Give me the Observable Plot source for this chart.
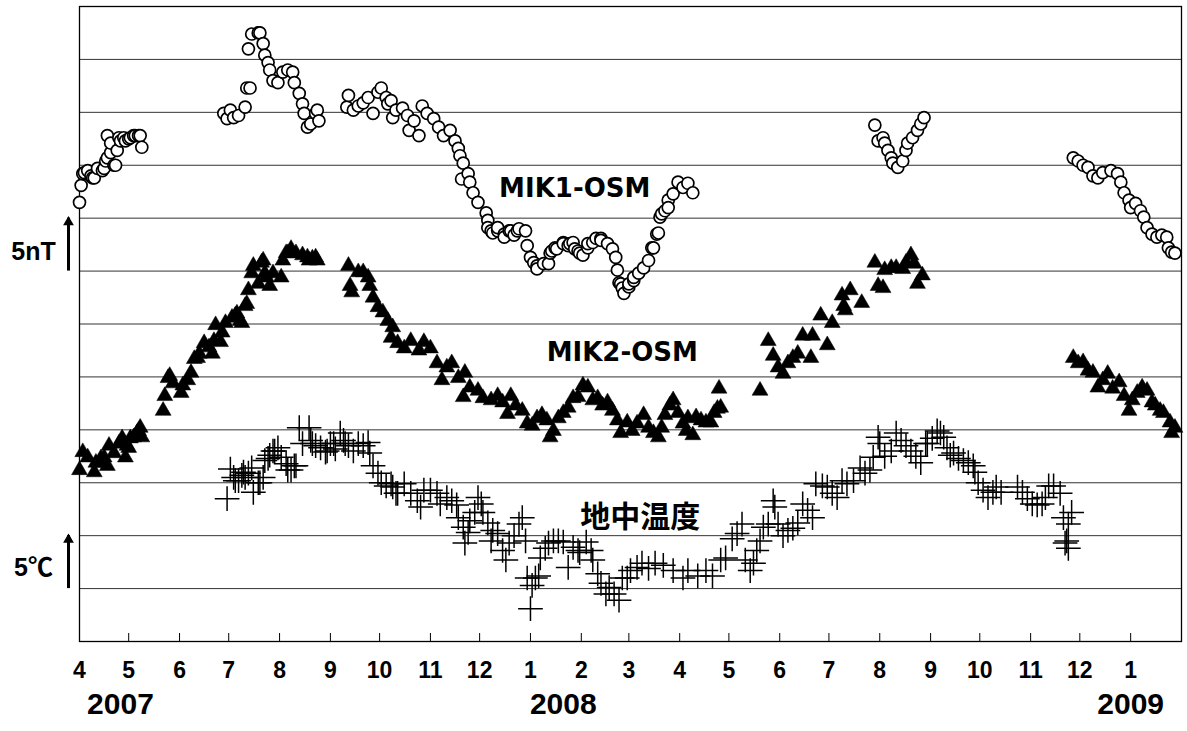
<!DOCTYPE html>
<html>
<head>
<meta charset="utf-8">
<script src="https://cdn.jsdelivr.net/npm/d3@7"></script>
<script src="https://cdn.jsdelivr.net/npm/@observablehq/plot@0.6"></script>
<style>
  html, body { margin: 0; padding: 0; background: #fff; }
  #chart svg { display: block; }
</style>
</head>
<body>
<div id="chart"></div>
<script>
// Day offsets are days elapsed since 2007-04-01; values in nT (or degC), one grid step = 5
const startDate = "2007-04-01";
const endDate = "2009-02-01";

const mik1 = [
  [0,41.5],[1,43.1],[2,44.2],[3,44.3],[5,44.5],[7,44.0],[8,43.8],[9,43.8],[11,44.7],[14,44.5],[15,44.7],[16,45.4],[17,45.7],[17,47.8],[19,46.2],[19,47.1],[21,45.0],[22,45.0],[23,46.4],[24,47.6],[25,47.3],[27,47.6],[28,47.3],[30,47.5],[31,47.6],[33,47.8],[34,47.8],[36,47.8],[37,47.8],[38,46.7],
  [88,49.9],[90,49.4],[92,50.2],[94,49.5],[97,49.7],[101,50.5],[102,52.3],[104,52.3],[103,56.0],[105,57.4],[109,57.5],[110,57.5],[112,56.5],[113,55.4],[115,54.7],[116,54.0],[118,53.0],[121,52.8],[124,53.8],[127,54.0],[130,53.8],[131,52.8],[134,51.8],[136,50.8],[137,49.9],[139,48.6],[141,48.9],[144,49.9],[145,50.2],[146,49.2],
  [163,50.5],[164,51.6],[167,50.2],[170,50.6],[173,50.9],[176,51.4],[179,49.9],[182,51.9],[184,52.3],[187,51.4],[188,50.8],[190,51.1],[191,49.5],[193,50.2],[197,50.4],[200,49.7],[201,48.3],[204,49.2],[207,47.8],[209,50.6],[212,49.9],[216,49.4],[219,48.6],[222,47.8],[226,48.3],[229,47.3],[231,46.6],[232,45.9],[234,45.2],[233,43.7],[237,44.2],[238,43.4],[240,42.4],[243,41.5],[248,40.5],[249,39.8],[249,39.1],[251,38.8],[252,38.6],[255,38.8],[255,39.1],[259,38.5],[259,38.2],[262,38.8],[263,38.8],[265,38.4],[267,38.8],[268,39.0],[272,38.8],[273,37.4],[275,36.3],[277,35.8],[279,35.5],[279,35.2],[283,35.7],[286,35.7],[287,36.7],[288,36.9],[290,37.2],[291,37.1],[295,37.7],[295,37.6],[298,37.4],[299,37.6],[301,37.7],[302,37.1],[304,36.9],[305,36.7],[307,36.5],[310,37.2],[310,37.6],[313,37.7],[315,38.1],[318,38.1],[318,37.9],[322,37.6],[325,37.1],[327,36.3],[328,35.1],[329,33.9],[330,33.8],[331,33.4],[332,32.9],[335,33.5],[335,33.8],[338,34.1],[338,34.4],[341,34.8],[344,35.3],[347,36.0],[349,37.2],[350,37.2],[352,38.5],[353,38.6],[354,40.1],[355,40.4],[357,40.7],[359,41.7],[359,41.0],[362,42.3],[365,43.4],[368,42.9],[371,43.3],[374,42.4],
  [485,48.8],[487,47.3],[490,47.6],[491,47.1],[493,46.4],[495,45.7],[496,45.2],[499,44.8],[502,45.4],[504,46.4],[505,47.1],[508,47.6],[511,48.3],[513,48.9],[515,49.5],
  [606,45.7],[609,45.4],[612,45.0],[615,44.8],[618,44.0],[621,43.8],[624,44.3],[629,44.5],[633,44.2],[635,43.4],[637,42.4],[640,41.7],[641,41.0],[644,41.4],[647,40.7],[649,40.1],[651,39.1],[654,38.5],[657,38.2],[660,38.4],[663,38.2],[664,37.2],[666,36.8],[668,36.7]
];

const mik2 = [
  [0,16.2],[2,17.9],[5,17.4],[9,16.0],[10,16.9],[12,16.9],[13,17.3],[15,17.4],[17,16.6],[18,18.5],[21,17.8],[24,18.7],[25,18.8],[26,19.2],[28,17.4],[29,18.5],[30,18.3],[31,19.2],[33,19.3],[35,19.7],[36,19.9],[37,20.2],[38,19.3],
  [51,21.8],[52,23.2],[54,24.9],[55,25.1],[57,24.4],[62,23.5],[63,24.2],[66,24.7],[68,25.4],[70,26.7],[72,26.8],[73,27.2],[76,28.2],[79,27.8],[81,27.2],[82,28.4],[83,29.9],[86,28.3],[87,29.2],[89,30.1],[93,30.6],[95,30.8],[96,31.0],[98,30.3],[99,30.1],[101,31.7],[102,31.9],[103,33.2],[105,34.8],[106,35.5],[109,33.8],[111,35.8],[112,36.0],[113,34.8],[114,34.4],[116,33.6],[118,34.8],[123,34.4],[124,36.0],[126,36.7],[127,36.7],[129,37.1],[132,36.7],[136,36.5],[139,36.3],[140,36.0],[142,36.2],[144,36.3],[145,36.0],
  [164,35.5],[165,33.6],[166,33.0],[170,34.9],[173,34.9],[176,34.4],[177,33.6],[179,32.5],[182,31.6],[185,31.1],[188,30.3],[190,28.7],[191,29.7],[194,28.2],[198,27.7],[202,28.4],[207,27.5],[210,28.3],[214,27.7],[218,26.3],[221,24.7],[224,25.9],[227,26.3],[231,24.9],[234,23.1],[235,25.4],[238,24.0],[243,23.7],[246,23.0],[251,22.8],[255,23.2],[258,22.6],[261,21.5],[263,23.2],[266,22.3],[270,21.8],[273,20.6],[276,20.4],[279,21.1],[282,21.4],[285,20.9],[287,19.3],[289,19.9],[292,21.1],[295,21.6],[298,22.1],[301,23.0],[304,23.1],[307,24.2],[310,24.0],[313,22.8],[316,23.0],[319,22.3],[322,22.6],[325,21.8],[328,20.9],[330,19.7],[334,20.7],[337,19.9],[340,20.6],[344,21.4],[347,20.2],[350,19.7],[353,19.3],[355,20.2],[357,21.4],[360,22.3],[362,22.8],[365,21.6],[368,20.6],[370,19.9],[371,21.1],[374,19.5],[376,21.2],[379,20.9],[382,20.7],[385,20.7],[387,21.6],[389,22.0],[391,22.1],[390,23.9],
  [415,23.7],[420,28.4],[423,27.0],[426,25.9],[429,25.3],[432,26.3],[435,26.8],[438,27.2],[441,28.9],[446,26.8],[447,28.9],[452,30.8],[456,28.0],[459,30.1],[465,32.7],[466,31.7],[467,31.3],[470,33.2],[477,32.0],[485,35.8],[487,33.6],[490,33.4],[491,35.1],[495,35.3],[498,35.3],[502,35.2],[504,35.8],[507,36.5],[509,35.7],[511,33.8],[514,34.6],
  [606,26.8],[609,26.3],[612,26.4],[615,25.6],[618,25.4],[621,24.0],[624,24.7],[627,25.3],[630,23.9],[634,24.5],[637,23.2],[640,21.8],[642,22.8],[645,23.5],[648,24.0],[651,23.7],[654,22.6],[656,22.3],[659,21.8],[661,21.6],[665,20.7],[666,19.7],[668,20.2]
];

const soilTemp = [
  [90,13.5],[92,16.3],[94,15.5],[95,15.2],[97,15.2],[99,15.7],[100,16.0],[101,15.5],[103,15.9],[105,16.4],[106,14.1],[109,15.0],[110,15.0],[112,15.5],[113,17.1],[115,17.3],[116,17.6],[118,18.0],[119,18.0],[121,18.3],[123,17.4],[126,16.8],[127,16.2],[129,16.2],[131,16.6],[132,16.6],[134,20.2],[136,18.7],[140,20.2],[141,19.0],[142,18.7],[144,18.5],[147,18.3],[150,17.9],[151,18.0],[153,18.7],[155,18.7],[156,18.2],[159,19.7],[161,19.0],[162,18.7],[164,18.5],[167,18.0],[170,18.7],[173,18.5],[176,18.8],[177,17.8],[179,16.6],[182,15.9],[184,15.0],[187,14.7],[190,14.9],[191,14.6],[193,14.0],[194,14.0],[198,14.9],[202,14.0],[206,13.3],[208,12.7],[210,14.3],[214,14.3],[218,14.0],[220,13.0],[224,13.6],[227,13.3],[230,12.9],[231,11.7],[234,10.8],[235,9.3],[237,10.3],[238,11.4],[241,12.2],[243,13.6],[245,13.0],[246,12.2],[249,11.2],[251,9.5],[252,10.5],[255,10.2],[258,8.6],[260,7.7],[262,9.3],[265,10.0],[268,11.1],[270,11.7],[272,9.5],[273,6.0],[275,3.1],[276,5.3],[278,6.0],[280,6.2],[281,7.9],[284,8.8],[286,9.3],[289,9.5],[292,9.5],[295,9.4],[298,7.0],[301,8.9],[304,8.6],[305,8.4],[309,9.4],[312,8.6],[313,7.7],[316,6.4],[318,5.5],[321,4.5],[323,5.1],[326,4.5],[329,3.9],[331,6.0],[334,6.0],[336,6.7],[340,7.0],[343,7.4],[347,6.9],[351,7.4],[356,7.2],[362,6.7],[368,6.0],[371,6.7],[377,6.2],[382,6.7],[386,6.2],[391,7.7],[394,7.9],[398,9.7],[401,10.2],[404,11.1],[406,7.7],[409,6.7],[411,7.4],[413,8.6],[415,9.5],[417,10.8],[420,11.1],[423,13.3],[424,12.7],[426,11.1],[429,10.0],[432,10.5],[435,10.7],[438,11.2],[441,13.0],[444,12.4],[447,11.7],[449,14.9],[453,14.7],[456,14.6],[459,14.0],[462,13.6],[465,15.2],[468,14.9],[472,15.2],[476,16.4],[479,15.9],[482,16.2],[484,17.4],[487,19.3],[488,18.7],[491,17.5],[495,18.0],[498,19.7],[501,19.0],[504,18.5],[507,18.0],[510,17.5],[513,16.9],[516,18.7],[517,18.7],[520,19.2],[523,19.9],[525,19.7],[527,19.3],[529,18.3],[531,17.6],[533,17.8],[536,17.3],[539,17.1],[542,16.9],[545,16.6],[546,16.0],[548,15.0],[551,14.3],[554,13.6],[557,14.1],[559,14.6],[562,14.1],
  [572,14.6],[575,14.1],[578,13.5],[581,13.0],[584,12.9],[587,13.0],[589,13.6],[591,14.7],[594,14.7],[598,14.0],[600,11.7],[603,11.1],[605,12.2],[601,9.3],[602,9.5],[603,8.8]
];

const monthTicks = ["2007-04-01","2007-05-01","2007-06-01","2007-07-01","2007-08-01","2007-09-01","2007-10-01","2007-11-01","2007-12-01",
  "2008-01-01","2008-02-01","2008-03-01","2008-04-01","2008-05-01","2008-06-01","2008-07-01","2008-08-01","2008-09-01","2008-10-01","2008-11-01","2008-12-01","2009-01-01"];
const yearLabels = ["2007","2008","2009"];
const yearLabelDates = ["2007-04-26","2008-01-21","2009-01-01"];
const gridValues = [5,10,15,20,25,30,35,40,45,50,55];
const seriesLabels = ["MIK1-OSM","MIK2-OSM","地中温度"];
const seriesLabelDates = ["2008-01-28","2008-02-26","2008-03-08"];
const seriesLabelValues = [42.8, 27.3, 11.7];
const scaleLabels = ["5nT","5℃"];
const scaleLabelValues = [36.8, 6.9];
const scaleArrows = [[35, 40], [5, 10]];

const t0 = new Date(startDate + "T00:00:00Z");
const toDate = d => new Date(t0.getTime() + d * 864e5);
const asRows = arr => arr.map(([d, v]) => ({date: toDate(d), value: v}));
const parse = s => new Date(s + "T00:00:00Z");

const tickDates = monthTicks.map(parse);
const labelRows = seriesLabels.map((t, i) => ({text: t, date: parse(seriesLabelDates[i]), value: seriesLabelValues[i]}));
const yearRows = yearLabels.map((t, i) => ({text: t, date: parse(yearLabelDates[i])}));
const scaleRows = scaleLabels.map((t, i) => ({text: t, value: scaleLabelValues[i]}));
const arrowRows = scaleArrows.map(([a, b]) => ({date: t0, y1: a, y2: b}));

const latin = "'Liberation Sans', Arial, sans-serif";
const narrow = "'Liberation Sans Narrow', 'Arial Narrow', 'Liberation Sans', sans-serif";

const chart = Plot.plot({
  width: 1187,
  height: 731,
  marginLeft: 79,
  marginRight: 6,
  marginTop: 6,
  marginBottom: 90,
  x: {type: "utc", domain: [t0, parse(endDate)]},
  y: {domain: [0, 60], axis: null},
  style: {background: "white", overflow: "visible", fontFamily: latin},
  marks: [
    Plot.ruleY(gridValues, {stroke: "#333", strokeWidth: 1}),
    Plot.frame({stroke: "black", strokeWidth: 1.3}),
    Plot.axisX(tickDates, {tickSize: -8, tickFormat: null, text: null, stroke: "black", label: null}),
    Plot.text(tickDates, {x: d => d, text: d3.utcFormat("%-m"), frameAnchor: "bottom", dy: 36, fontSize: 23, fontWeight: "bold", fontFamily: narrow}),
    Plot.text(yearRows, {x: "date", text: "text", frameAnchor: "bottom", dy: 72, fontSize: 30, fontWeight: "bold", fontFamily: latin, letterSpacing: 1}),
    Plot.dot(asRows(soilTemp), {x: "date", y: "value", symbol: "plus", r: 8, stroke: "black", strokeWidth: 1.5}),
    Plot.dot(asRows(mik2), {x: "date", y: "value", symbol: "triangle", r: 5.9, fill: "black", stroke: "black", strokeWidth: 0.5}),
    Plot.dot(asRows(mik1), {x: "date", y: "value", symbol: "circle", r: 6, fill: "white", stroke: "black", strokeWidth: 1.7}),
    Plot.text(labelRows.slice(0, 2), {x: "date", y: "value", text: "text", fontSize: 26, fontWeight: "bold", fontFamily: "'DejaVu Sans', sans-serif", fill: "black"}),
    Plot.text(labelRows.slice(2), {x: "date", y: "value", text: "text", fontSize: 30, fontWeight: "bold", fontFamily: "'Noto Sans CJK JP', sans-serif", fill: "black"}),
    Plot.text(scaleRows, {y: "value", text: "text", frameAnchor: "left", textAnchor: "middle", dx: -46, fontSize: 25, fontWeight: "bold", fontFamily: "'Liberation Sans', 'Noto Sans CJK JP', sans-serif", letterSpacing: 2}),
    Plot.ruleX(arrowRows, {x: "date", y1: "y1", y2: "y2", dx: -11, stroke: "black", strokeWidth: 3}),
    Plot.dot(arrowRows, {x: "date", y: "y2", dx: -11, dy: 4, symbol: "triangle", r: 4, fill: "black"})
  ]
});

document.getElementById("chart").appendChild(chart);
</script>
</body>
</html>
